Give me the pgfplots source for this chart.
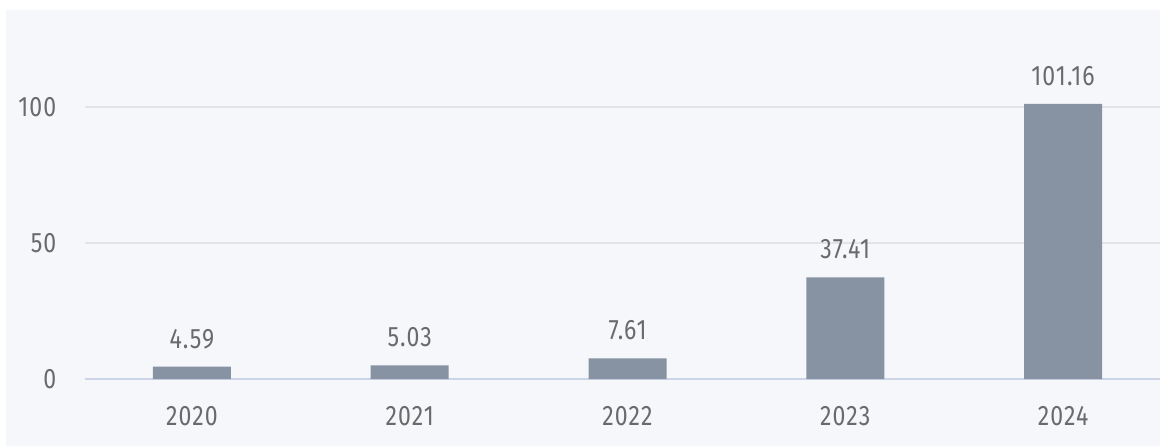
\documentclass[border=0pt]{standalone}
\usepackage{pgfplots}
\pgfplotsset{compat=1.18}
\usepackage{fontspec}
\setmainfont{Fira Sans}[FakeStretch=0.82, LetterSpace=4]

\definecolor{bg}{HTML}{F5F7FB}
\definecolor{barcol}{HTML}{8792A2}
\definecolor{gridgray}{HTML}{E3E4E7}
\definecolor{axisblue}{HTML}{CCD5E8}
\definecolor{txt}{HTML}{6A6A6A}

\begin{document}
\begin{tikzpicture}
\useasboundingbox (0,0) rectangle (11.6cm,4.46cm);
\fill[white] (0,0) rectangle (11.6cm,4.46cm);
\fill[bg] (0.06cm,0) rectangle (11.6cm,4.36cm);
\begin{axis}[
    at={(0.85cm,0.67cm)}, anchor=south west,
    scale only axis,
    width=10.75cm, height=3.69cm,
    xmin=-0.491, xmax=4.445,
    ymin=0, ymax=135.66,
    ybar, bar width=0.78cm,
    axis line style={draw=none},
    xtick=data,
    xticklabels={2020,2021,2022,2023,2024},
    ytick={50,100},
    extra y ticks={0},
    extra y tick style={grid style={draw=axisblue, line width=0.6pt}},
    ymajorgrids,
    grid style={draw=gridgray, line width=0.6pt},
    major tick length=0pt,
    tick label style={font=\fontsize{8}{9.6}\selectfont, text=txt,
        /pgf/number format/assume math mode=true},
    xticklabel style={anchor=base, yshift=-0.46cm, inner sep=0pt},
    yticklabel style={anchor=east, xshift=-0.28cm, inner sep=0pt},
    clip=false,
    nodes near coords,
    nodes near coords style={font=\fontsize{8}{9.6}\selectfont, text=txt,
        anchor=base, yshift=0.185cm, inner sep=0pt,
        /pgf/number format/.cd, fixed, fixed zerofill, precision=2,
        assume math mode=true},
]
\addplot[fill=barcol, draw=none] coordinates {
    (0, 4.59) (1, 5.03) (2, 7.61) (3, 37.41) (4, 101.16)
};
\end{axis}
\end{tikzpicture}
\end{document}
